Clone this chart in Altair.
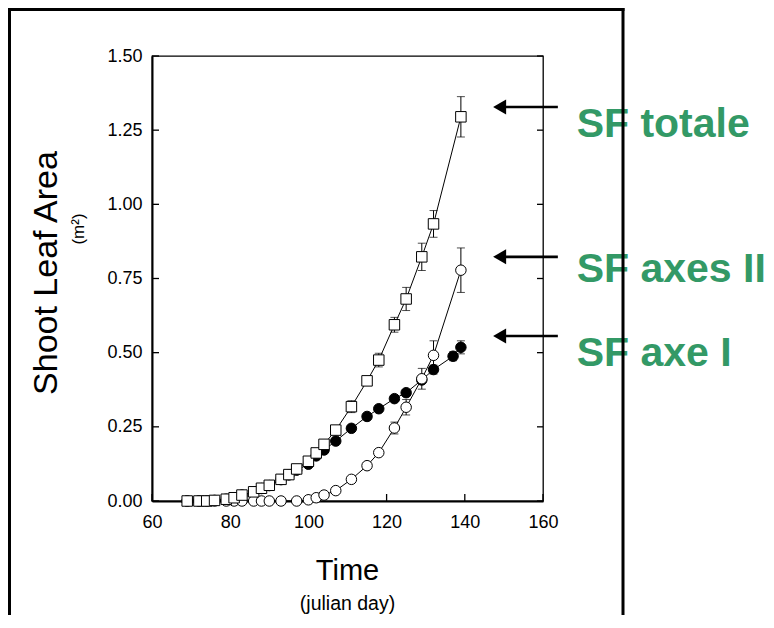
import altair as alt
import pandas as pd

# ---------------- data ----------------
days_tot = [69, 72, 74, 76, 79, 81, 83, 86, 88, 90, 93, 95, 97, 100, 102, 104, 107,
            111, 115, 118, 122, 125, 129, 132, 139]
val_tot = [0.0, 0.0, 0.0, 0.002, 0.006, 0.011, 0.020, 0.031, 0.043, 0.053, 0.073, 0.089,
           0.108, 0.134, 0.162, 0.191, 0.239, 0.318, 0.405, 0.475, 0.594, 0.681, 0.823,
           0.934, 1.295]
se_tot = [0, 0, 0, 0, 0, 0, 0, 0, 0, 0, 0, 0, 0, 0, 0, 0, 0.008, 0.020, 0.012, 0.023,
          0.025, 0.039, 0.046, 0.045, 0.068]

days_ax2 = [69, 72, 74, 76, 79, 81, 83, 86, 88, 90, 93, 97, 100, 102, 104, 107, 111, 115,
            118, 122, 125, 129, 132, 139]
val_ax2 = [0.0, 0.0, 0.0, 0.0, 0.0, 0.0, 0.0, 0.0, 0.0, 0.0, 0.0, 0.0, 0.004, 0.011, 0.020,
           0.035, 0.073, 0.119, 0.163, 0.246, 0.316, 0.412, 0.491, 0.778]
se_ax2 = [0, 0, 0, 0, 0, 0, 0, 0, 0, 0, 0, 0, 0, 0, 0, 0, 0.004, 0.006, 0.010, 0.020,
          0.026, 0.035, 0.049, 0.075]

days_ax1 = [69, 72, 74, 76, 79, 81, 83, 86, 88, 90, 93, 95, 97, 100, 102, 104, 107, 111,
            115, 118, 122, 125, 129, 132, 137, 139]
val_ax1 = [0.0, 0.0, 0.0, 0.002, 0.006, 0.011, 0.020, 0.030, 0.042, 0.052, 0.072, 0.088,
           0.104, 0.124, 0.152, 0.172, 0.202, 0.245, 0.285, 0.311, 0.345, 0.365, 0.408,
           0.443, 0.488, 0.518]
se_ax1 = [0] * 21 + [0.010, 0.012, 0.015, 0.015, 0.022]

x_ticks = [60, 80, 100, 120, 140, 160]
y_ticks = [0.0, 0.25, 0.50, 0.75, 1.00, 1.25, 1.50]

ann_labels = ["SF totale", "SF axes II", "SF axe I"]
ann_arrow_y = [1.328, 0.823, 0.556]
ann_text_y = [1.227, 0.738, 0.455]
arrow_tip_x = 148.9
arrow_end_x = 163.8
ann_text_x = 168.6

# ---------------- tables ----------------
def series(days, vals, ses):
    df = pd.DataFrame({"x": days, "y": vals, "se": ses})
    df["lo"] = df["y"] - df["se"]
    df["hi"] = df["y"] + df["se"]
    return df

tot = series(days_tot, val_tot, se_tot)
ax2 = series(days_ax2, val_ax2, se_ax2)
ax1 = series(days_ax1, val_ax1, se_ax1)

W, H = 391, 445
PAD_B = 114
FONT = "Liberation Sans"

xs = alt.Scale(domain=[60, 160], nice=False, zero=False)
ys = alt.Scale(domain=[0, 1.5], nice=False, zero=True)
xaxis = alt.Axis(values=x_ticks, format="d", ticks=False, grid=False, title=None,
                 labelFontSize=18, labelFont=FONT, labelColor="black", labelPadding=12,
                 labelFlush=False, domainColor="black", domainWidth=2)
yaxis = alt.Axis(values=y_ticks, format=".2f", ticks=False, grid=False, title=None,
                 labelFontSize=18, labelFont=FONT, labelColor="black", labelPadding=10,
                 labelFlush=False, domainColor="black", domainWidth=2)

def X(f="x"):
    return alt.X(f"{f}:Q", scale=xs, axis=xaxis)

def Y(f="y"):
    return alt.Y(f"{f}:Q", scale=ys, axis=yaxis)

one = pd.DataFrame({"a": [0]})
ytk = pd.DataFrame({"y": y_ticks})
xtk = pd.DataFrame({"x": x_ticks})

layers = []
# inward ticks
layers.append(alt.Chart(ytk).mark_rule(color="black", strokeWidth=1.3).encode(
    y=Y(), x=alt.value(0), x2=alt.value(7)))
layers.append(alt.Chart(ytk).mark_rule(color="black", strokeWidth=1.3).encode(
    y=Y(), x=alt.value(W - 6), x2=alt.value(W)))
layers.append(alt.Chart(xtk).mark_rule(color="black", strokeWidth=1.3).encode(
    x=X(), y=alt.value(H), y2=alt.value(H - 7)))

# error bars
for df in (ax1, ax2, tot):
    d = df[df["se"] > 0]
    layers.append(alt.Chart(d).mark_rule(color="black", strokeWidth=1).encode(
        x=X(), y=Y("lo"), y2="hi:Q"))
    layers.append(alt.Chart(d).mark_tick(orient="horizontal", size=8, thickness=1,
                                         color="black").encode(x=X(), y=Y("lo")))
    layers.append(alt.Chart(d).mark_tick(orient="horizontal", size=8, thickness=1,
                                         color="black").encode(x=X(), y=Y("hi")))

# lines
for df in (ax1, ax2, tot):
    layers.append(alt.Chart(df).mark_line(color="black", strokeWidth=1).encode(
        x=X(), y=Y()))

# markers
layers.append(alt.Chart(ax1).mark_point(shape="circle", filled=True, fill="black",
                                        stroke="black", strokeWidth=1, size=110,
                                        opacity=1).encode(x=X(), y=Y()))
layers.append(alt.Chart(ax2).mark_point(shape="circle", filled=True, fill="white",
                                        stroke="black", strokeWidth=1, size=110,
                                        opacity=1).encode(x=X(), y=Y()))
layers.append(alt.Chart(tot).mark_point(shape="square", filled=True, fill="white",
                                        stroke="black", strokeWidth=1, size=110,
                                        opacity=1).encode(x=X(), y=Y()))

# annotations
ann = pd.DataFrame({"label": ann_labels, "ay": ann_arrow_y, "ty": ann_text_y,
                    "x0": [arrow_tip_x] * 3, "x1": [arrow_end_x] * 3,
                    "tx": [ann_text_x] * 3})
layers.append(alt.Chart(ann).mark_rule(color="black", strokeWidth=2.6).encode(
    x=X("x0"), x2="x1:Q", y=Y("ay")))
layers.append(alt.Chart(ann).mark_point(shape="triangle-left", filled=True, fill="black",
                                        size=225, opacity=1, strokeWidth=0).encode(
    x=X("x0"), y=Y("ay")))
layers.append(alt.Chart(ann).mark_text(font=FONT, fontSize=41, fontWeight="bold",
                                       color="#339966", align="left",
                                       baseline="alphabetic").encode(
    x=X("tx"), y=Y("ty"), text="label:N"))

# titles
layers.append(alt.Chart(one).mark_text(text="Time", font=FONT, fontSize=29,
                                       color="black", align="center",
                                       baseline="alphabetic").encode(
    x=alt.value(195.5), y=alt.value(524)))
layers.append(alt.Chart(one).mark_text(text="(julian day)", font=FONT, fontSize=19.5,
                                       color="black", align="center",
                                       baseline="alphabetic").encode(
    x=alt.value(195.5), y=alt.value(554)))
layers.append(alt.Chart(one).mark_text(text="Shoot Leaf Area", font=FONT, fontSize=34,
                                       color="black", align="center", angle=270,
                                       baseline="alphabetic").encode(
    x=alt.value(-95), y=alt.value(217)))
layers.append(alt.Chart(one).mark_text(text="(m²)", font=FONT, fontSize=17,
                                       color="black", align="center", angle=270,
                                       baseline="alphabetic").encode(
    x=alt.value(-68), y=alt.value(173)))

# outer frame
layers.append(alt.Chart(one).mark_rule(color="black", strokeWidth=3).encode(
    x=alt.value(-142.5), y=alt.value(-48), y2=alt.value(H + PAD_B)))
layers.append(alt.Chart(one).mark_rule(color="black", strokeWidth=3).encode(
    x=alt.value(-144), x2=alt.value(472.5), y=alt.value(-46.5)))
layers.append(alt.Chart(one).mark_rule(color="black", strokeWidth=3).encode(
    x=alt.value(471), y=alt.value(-48), y2=alt.value(H + PAD_B)))

chart = alt.layer(*layers).properties(
    width=W, height=H,
    padding={"left": 144, "top": 48, "right": 223, "bottom": PAD_B},
    autosize=alt.AutoSizeParams(type="none"),
    background="white",
).configure_view(stroke="black", strokeWidth=1.3)

chart.save("out.html", embed_options={"renderer": "svg", "actions": False})
